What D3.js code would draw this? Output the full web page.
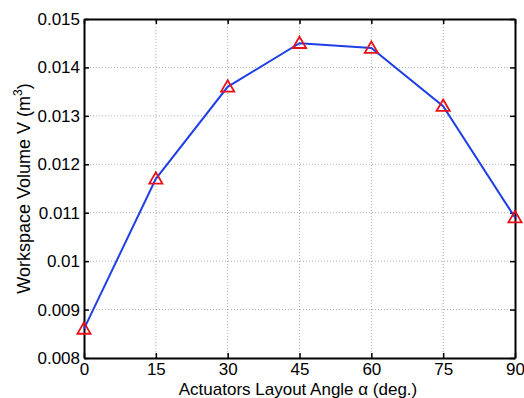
<!DOCTYPE html>
<html>
<head>
<meta charset="utf-8">
<script src="https://cdn.jsdelivr.net/npm/d3@7"></script>
<style>
  body { margin: 0; background: #fff; }
  svg { display: block; font-family: Arial, "Liberation Sans", sans-serif; }
</style>
</head>
<body>
<div id="chart"></div>
<script>
const angles = [0, 15, 30, 45, 60, 75, 90]
const volumes = [0.0086, 0.0117, 0.0136, 0.0145, 0.0144, 0.0132, 0.0109]
const xTicks = [0, 15, 30, 45, 60, 75, 90]
const yTicks = [0.008, 0.009, 0.01, 0.011, 0.012, 0.013, 0.014, 0.015]

const width = 524
const height = 398
const margin = { top: 19, right: 9, bottom: 40, left: 84 }

const svg = d3.select('#chart').append('svg')
  .attr('width', width)
  .attr('height', height)

const x = d3.scaleLinear().domain([0, 90]).range([margin.left, width - margin.right])
const y = d3.scaleLinear().domain([0.008, 0.015]).range([height - margin.bottom, margin.top])

// grid
const grid = svg.append('g')
  .attr('stroke', '#999')
  .attr('stroke-width', 0.8)
  .attr('stroke-dasharray', '1,2')
grid.selectAll('.gx').data(xTicks.slice(1, -1)).enter().append('line')
  .attr('x1', d => x(d)).attr('x2', d => x(d))
  .attr('y1', y.range()[0]).attr('y2', y.range()[1])
grid.selectAll('.gy').data(yTicks.slice(1, -1)).enter().append('line')
  .attr('y1', d => y(d)).attr('y2', d => y(d))
  .attr('x1', x.range()[0]).attr('x2', x.range()[1])

// axes, ticks inward like matlab
const xAxis = d3.axisBottom(x).tickValues(xTicks).tickSizeInner(-5).tickSizeOuter(0).tickPadding(5)
const yAxis = d3.axisLeft(y).tickValues(yTicks).tickSizeInner(-5).tickSizeOuter(0).tickPadding(4)
  .tickFormat(d => d3.format('.3f')(d).replace(/0+$/, ''))

const xTop = d3.axisTop(x).tickValues(xTicks).tickSizeInner(-5).tickSizeOuter(0).tickFormat('')
const yRight = d3.axisRight(y).tickValues(yTicks).tickSizeInner(-5).tickSizeOuter(0).tickFormat('')

const styleAxis = g => {
  g.selectAll('.domain').attr('stroke', '#000').attr('stroke-width', 2)
  g.selectAll('.tick line').attr('stroke', '#000').attr('stroke-width', 1.5)
  g.selectAll('.tick text').attr('fill', '#000').style('font-size', '17px')
}

svg.append('g').attr('transform', `translate(0,${y.range()[0]})`).call(xAxis).call(styleAxis)
svg.append('g').attr('transform', `translate(${x.range()[0]},0)`).call(yAxis).call(styleAxis)
svg.append('g').attr('transform', `translate(0,${y.range()[1]})`).call(xTop).call(styleAxis)
svg.append('g').attr('transform', `translate(${x.range()[1]},0)`).call(yRight).call(styleAxis)

// the last x label sits at the window edge; keep it inside
svg.selectAll('.tick text').filter(d => d === 90).attr('text-anchor', 'end').attr('dx', '0.55em')

// line
const line = d3.line().x((d, i) => x(angles[i])).y(d => y(d))
svg.append('path')
  .datum(volumes)
  .attr('fill', 'none')
  .attr('stroke', '#1f3fe6')
  .attr('stroke-width', 2)
  .attr('d', line)

// triangle markers
const tri = d3.symbol().type(d3.symbolTriangle).size(75)
svg.selectAll('.marker').data(volumes).enter().append('path')
  .attr('class', 'marker')
  .attr('d', tri)
  .attr('transform', (d, i) => `translate(${x(angles[i])},${y(d) + 1})`)
  .attr('fill', 'none')
  .attr('stroke', '#e8101a')
  .attr('stroke-width', 1.8)

// labels
svg.append('text')
  .attr('x', 298)
  .attr('y', 395)
  .attr('text-anchor', 'middle')
  .style('font-size', '17px')
  .html('Actuators Layout Angle α (deg.)')

svg.append('text')
  .attr('transform', `translate(30,${(y.range()[0] + y.range()[1]) / 2}) rotate(-90)`)
  .attr('text-anchor', 'middle')
  .style('font-size', '18px')
  .html('Workspace Volume V (m<tspan dy="-8" font-size="12px">3</tspan><tspan dy="8">)</tspan>')
</script>
</body>
</html>
